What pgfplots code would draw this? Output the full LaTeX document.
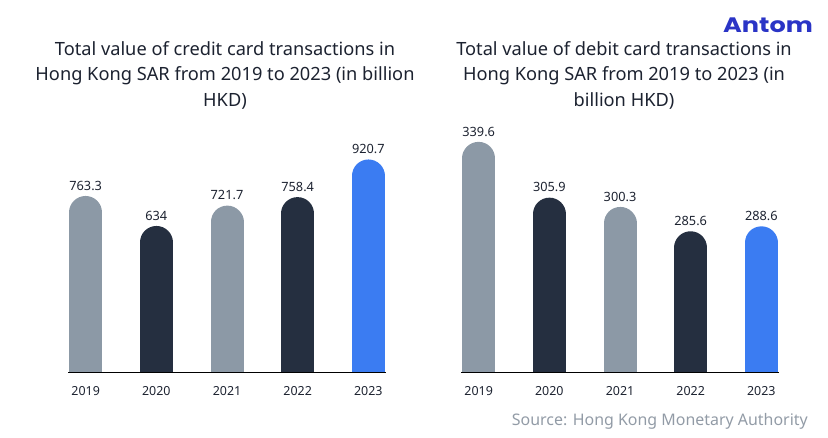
\documentclass[border=0pt]{standalone}
\usepackage{fontspec}
\setmainfont{Noto Sans}
\newfontfamily\logofont{Poppins}
\usepackage{pgfplots}
\pgfplotsset{compat=1.18}
\definecolor{cgrey}{HTML}{8C99A6}
\definecolor{cdark}{HTML}{252F40}
\definecolor{cblue}{HTML}{3B7CF2}
\definecolor{ctitle}{HTML}{1C2230}
\definecolor{clogo}{HTML}{2A34C6}
\definecolor{csrc}{HTML}{929BA6}
\pgfplotsset{
  barpanel/.style={
    scale only axis, width=318bp, height=250bp,
    xmin=-0.25, xmax=4.25,
    axis x line=bottom, axis y line=none,
    axis line style={black, line width=1bp, -},
    axis on top,
    xtick={0,1,2,3,4},
    xticklabels={2019,2020,2021,2022,2023},
    major tick length=0pt,
    xticklabel style={font=\fontsize{12.5}{14}\selectfont, text=ctitle, yshift=-9.5bp},
    ytick=\empty,
    /pgf/number format/assume math mode=true,
    nodes near coords,
    every node near coord/.append style={font=\fontsize{12.8}{14}\selectfont, text=ctitle, anchor=south, inner sep=0pt, outer sep=0pt, yshift=5.5bp},
    clip=true,
  },
  pill/.style={ycomb, mark=none, line width=33bp, line cap=round, shorten >=16.5bp, draw=#1}
}
\begin{document}
\begin{tikzpicture}[x=1bp,y=1bp]
\path[use as bounding box] (0,0) rectangle (828,438);
% titles
\begin{scope}[every node/.style={anchor=base, text=ctitle, inner sep=0pt, font=\fontsize{18.3}{22}\selectfont}]
\node at (225,382) {Total value of credit card transactions in};
\node at (225,357) {Hong Kong SAR from 2019 to 2023 (in billion};
\node at (225,331.5) {HKD)};
\node at (624,382) {Total value of debit card transactions in};
\node at (624,357) {Hong Kong SAR from 2019 to 2023 (in};
\node at (624,331.5) {billion HKD)};
\end{scope}
\node[anchor=base, inner sep=0pt, text=clogo, font=\logofont\bfseries\fontsize{21}{24}\selectfont, xscale=1.22] at (768,405) {Antom};
\node[anchor=base east, inner sep=0pt, text=csrc, font=\fontsize{16}{19}\selectfont] at (808,12) {Source: Hong Kong Monetary Authority};

\begin{axis}[barpanel, at={(68bp,65bp)}, anchor=south west, ymin=0, ymax=1078]
\addplot[pill=cgrey] coordinates {(0,763.3)};
\addplot[pill=cdark] coordinates {(1,634)};
\addplot[pill=cgrey] coordinates {(2,721.7)};
\addplot[pill=cdark] coordinates {(3,758.4)};
\addplot[pill=cblue] coordinates {(4,920.7)};
\end{axis}

\begin{axis}[barpanel, at={(461bp,65bp)}, anchor=south west, ymin=200, ymax=351]
\addplot[pill=cgrey] coordinates {(0,339.6)};
\addplot[pill=cdark] coordinates {(1,305.9)};
\addplot[pill=cgrey] coordinates {(2,300.3)};
\addplot[pill=cdark] coordinates {(3,285.6)};
\addplot[pill=cblue] coordinates {(4,288.6)};
\end{axis}
\end{tikzpicture}
\end{document}
